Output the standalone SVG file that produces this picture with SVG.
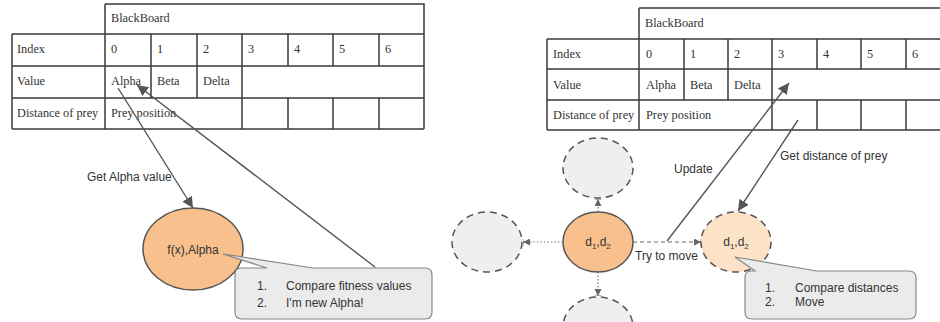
<svg xmlns="http://www.w3.org/2000/svg" width="940" height="322" viewBox="0 0 940 322">
<style>
.tl{stroke:#3a3a3a;stroke-width:1.5;fill:none}
.tt{font-family:"Liberation Serif",serif;font-size:12.3px;fill:#333}
.st{font-family:"Liberation Sans",Arial,sans-serif;font-size:12px;fill:#333}
.ar{stroke:#555;stroke-width:1.4;fill:none}
.dot{stroke:#777;stroke-width:1.2;stroke-dasharray:1.5 2;fill:none}
.dsh{stroke:#666;stroke-width:1.2;stroke-dasharray:4 3;fill:none}
.solid{fill:#f7c08d;stroke:#555;stroke-width:1.5}
.ghost{fill:#efefef;stroke:#555;stroke-width:1.5;stroke-dasharray:7 5}
.peach{fill:#fce3c8;stroke:#555;stroke-width:1.5;stroke-dasharray:7 5}
.call{fill:#ebebeb;stroke:#888;stroke-width:1.2}
</style>
<defs>
<marker id="ah" viewBox="0 0 10 10" refX="10" refY="5" markerWidth="11" markerHeight="11" markerUnits="userSpaceOnUse" orient="auto"><path d="M0,0 L10,5 L0,10 z" fill="#555"/></marker>
<marker id="sh" viewBox="0 0 10 10" refX="10" refY="5" markerWidth="7" markerHeight="7" markerUnits="userSpaceOnUse" orient="auto"><path d="M0,0 L10,5 L0,10 z" fill="#666"/><path d="M10,0 L10,10" stroke="#666" stroke-width="1.5"/></marker>
</defs>

<g id="table-left">
<path class="tl" d="M105,4 H424 V129 M105,4 V129 M12,34 H424 M12,66 H424 M12,98 H424 M12,129 H424 M12,34 V129 M151,34 V98 M197,34 V98 M242,34 V129 M288,34 V66 M333,34 V66 M379,34 V66 M288,98 V129 M333,98 V129 M379,98 V129"/>
<text class="tt" x="111" y="22">BlackBoard</text>
<text class="tt" x="17" y="53">Index</text>
<text class="tt" x="111" y="53">0</text>
<text class="tt" x="157" y="53">1</text>
<text class="tt" x="203" y="53">2</text>
<text class="tt" x="248" y="53">3</text>
<text class="tt" x="294" y="53">4</text>
<text class="tt" x="339" y="53">5</text>
<text class="tt" x="385" y="53">6</text>
<text class="tt" x="17" y="85">Value</text>
<text class="tt" x="111" y="85">Alpha</text>
<text class="tt" x="157" y="85">Beta</text>
<text class="tt" x="203" y="85">Delta</text>
<text class="tt" x="17" y="117">Distance of prey</text>
<text class="tt" x="111" y="117">Prey position</text>
</g>

<g id="table-right">
<path class="tl" d="M639,8 H952 M639,8 V130 M547,39 H952 M547,69 H952 M547,100 H952 M547,130 H952 M547,39 V130 M684,39 V100 M728,39 V100 M772,39 V130 M817,39 V69 M861,39 V69 M906,39 V69 M817,100 V130 M861,100 V130 M906,100 V130"/>
<text class="tt" x="645" y="27">BlackBoard</text>
<text class="tt" x="553" y="58">Index</text>
<text class="tt" x="646" y="58">0</text>
<text class="tt" x="690" y="58">1</text>
<text class="tt" x="734" y="58">2</text>
<text class="tt" x="778" y="58">3</text>
<text class="tt" x="823" y="58">4</text>
<text class="tt" x="867" y="58">5</text>
<text class="tt" x="912" y="58">6</text>
<text class="tt" x="553" y="89">Value</text>
<text class="tt" x="646" y="89">Alpha</text>
<text class="tt" x="690" y="89">Beta</text>
<text class="tt" x="734" y="89">Delta</text>
<text class="tt" x="553" y="119">Distance of prey</text>
<text class="tt" x="646" y="119">Prey position</text>
</g>

<g id="node-alpha">
<ellipse class="solid" cx="193" cy="249" rx="50" ry="41"/>
<text class="st" x="193" y="254" text-anchor="middle">f(x),Alpha</text>
</g>

<g id="callout-left">
<path class="call" d="M241,268 H267 L223,254 L313,268 H425 Q432,268 432,275 V312 Q432,319 425,319 H242 Q235,319 235,312 V275 Q235,268 241,268 Z"/>
<text class="st" x="257" y="290">1.</text>
<text class="st" x="286" y="290">Compare fitness values</text>
<text class="st" x="257" y="307">2.</text>
<text class="st" x="286" y="307">I'm new Alpha!</text>
</g>

<g id="node-center">
<ellipse class="solid" cx="598" cy="242" rx="35" ry="30"/>
<text class="st" x="598" y="246" text-anchor="middle">d<tspan font-size="8" dy="3">1</tspan><tspan dy="-3">,d</tspan><tspan font-size="8" dy="3">2</tspan></text>
</g>
<g id="node-top">
<ellipse class="ghost" cx="598" cy="168" rx="35" ry="30"/>
</g>
<g id="node-left">
<ellipse class="ghost" cx="487" cy="242" rx="35" ry="30"/>
</g>
<g id="node-bottom">
<ellipse class="ghost" cx="598" cy="327" rx="35" ry="30"/>
</g>
<g id="node-target">
<ellipse class="peach" cx="736" cy="242" rx="35" ry="30"/>
<text class="st" x="736" y="246" text-anchor="middle">d<tspan font-size="8" dy="3">1</tspan><tspan dy="-3">,d</tspan><tspan font-size="8" dy="3">2</tspan></text>
</g>

<g id="callout-right">
<path class="call" d="M751,271 H755 L735,257 L817,271 H909 Q916,271 916,278 V312 Q916,319 909,319 H752 Q745,319 745,312 V278 Q745,271 751,271 Z"/>
<text class="st" x="765" y="292">1.</text>
<text class="st" x="795" y="292">Compare distances</text>
<text class="st" x="765" y="306">2.</text>
<text class="st" x="795" y="306">Move</text>
</g>

<g id="connectors">
<line class="ar" x1="118" y1="88" x2="193" y2="208" marker-end="url(#ah)"/>
<text class="st" x="87" y="181">Get Alpha value</text>
<line class="ar" x1="375" y1="267" x2="137" y2="85" marker-end="url(#ah)"/>
<line class="dot" x1="563" y1="242" x2="523" y2="242" marker-end="url(#sh)"/>
<line class="dot" x1="598" y1="212" x2="598" y2="199" marker-end="url(#sh)"/>
<line class="dot" x1="598" y1="272" x2="598" y2="296" marker-end="url(#sh)"/>
<line class="dsh" x1="633" y1="242" x2="701" y2="242" marker-end="url(#sh)"/>
<text class="st" x="635" y="260">Try to move</text>
<line class="ar" x1="667" y1="241" x2="789" y2="83" marker-end="url(#ah)"/>
<text class="st" x="674" y="173">Update</text>
<line class="ar" x1="798" y1="120" x2="738" y2="211" marker-end="url(#ah)"/>
<text class="st" x="780" y="160">Get distance of prey</text>
</g>
</svg>
